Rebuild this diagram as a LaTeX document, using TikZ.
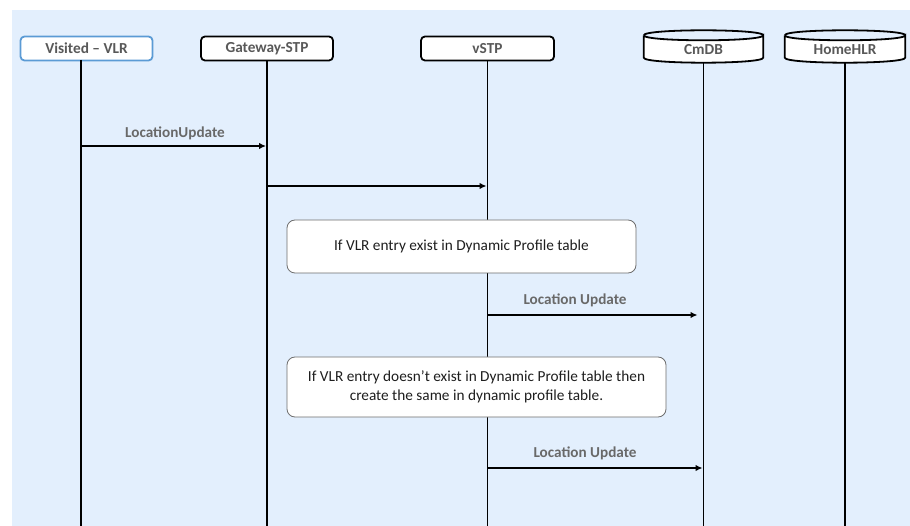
\documentclass[tikz,border=0pt]{standalone}
\usepackage{fontspec}
\setmainfont{Carlito}
\usetikzlibrary{arrows.meta}
\definecolor{bgblue}{RGB}{227,239,253}
\definecolor{vlrblue}{RGB}{91,155,213}
\definecolor{hdrtext}{RGB}{89,89,89}
\definecolor{lbltext}{RGB}{105,105,105}
\definecolor{notetext}{RGB}{30,30,30}
\definecolor{noteborder}{RGB}{110,110,110}
\tikzset{
  header/.style={draw=black, line width=1.8pt, rounded corners=4pt, fill=white,
    minimum height=24pt, inner sep=0pt, font=\fontsize{15.3}{17}\selectfont\bfseries, text=hdrtext},
  dbnode/.style={minimum width=119pt, minimum height=32pt, inner sep=0pt,
    font=\fontsize{15.3}{17}\selectfont\bfseries, text=hdrtext},
  lifeline/.style={line width=1.6pt, black},
  msg/.style={line width=1.3pt, -{Latex[length=7pt,width=6.5pt]}},
  msglabel/.style={font=\fontsize{15.2}{17}\selectfont\bfseries, text=lbltext, inner sep=0pt},
  note/.style={draw=noteborder, line width=0.8pt, rounded corners=8pt, fill=white,
    inner sep=0pt, font=\fontsize{15.3}{18.5}\selectfont, text=notetext, align=center}
}
\begin{document}
\begin{tikzpicture}[x=1pt,y=-1pt]
\useasboundingbox (0,0) rectangle (910,526);
\fill[bgblue] (12,10) rectangle (910,526);

% header nodes
\node[header, draw=vlrblue, minimum width=132pt] (VLR) at (86.5,48.5) {Visited -- VLR};
\node[header, minimum width=132pt] (GW) at (267,48.5) {Gateway-STP};
\node[header, minimum width=133pt] (VSTP) at (487.5,48.5) {vSTP};
\node[dbnode] (CMDB) at (703.5,46.5) {};
\node[dbnode, minimum width=120pt] (HLR) at (845,46.5) {};

% cylinders
\foreach \n/\t in {CMDB/CmDB,HLR/HomeHLR}{
  \draw[line width=1.8pt, fill=white]
    (\n.north west) ++(0,5) coordinate (\n tl)
    (\n.north east) ++(0,5) coordinate (\n tr)
    (\n.south west) ++(0,-5) coordinate (\n bl)
    (\n.south east) ++(0,-5) coordinate (\n br)
    (\n tl) -- (\n bl) .. controls ([yshift=-6.67pt]\n bl) and ([yshift=-6.67pt]\n br) .. (\n br)
    -- (\n tr) .. controls ([yshift=-6.67pt]\n tr) and ([yshift=-6.67pt]\n tl) .. (\n tl);
  \draw[line width=1.8pt]
    (\n tl) .. controls ([yshift=6.67pt]\n tl) and ([yshift=6.67pt]\n tr) .. (\n tr);
  \node[dbnode] at ([yshift=-3pt]\n.center) {\t};
}

% lifelines
\coordinate (bottom) at (0,526);
\coordinate (vlrx) at (81,60);
\draw[lifeline] (vlrx) -- (vlrx |- bottom);
\draw[lifeline] (GW.south) -- (GW.south |- bottom);
\draw[lifeline] (VSTP.south) -- (VSTP.south |- bottom);
\draw[lifeline] (CMDB.south) -- (CMDB.south |- bottom);
\draw[lifeline] (HLR.south) -- (HLR.south |- bottom);

% messages
\coordinate (m1) at (0,146);
\coordinate (m2) at (0,186);
\coordinate (m3) at (0,315);
\coordinate (m4) at (0,468);
\draw[msg] (vlrx |- m1) -- ([xshift=-1pt]GW.south |- m1);
\node[msglabel] (l1) at (175,133) {LocationUpdate};
\draw[msg] (GW.south |- m2) -- ([xshift=-1pt]VSTP.south |- m2);

\node[note, minimum width=349pt, minimum height=53pt] (n1) at (461.5,246.5)
  {If VLR entry exist in Dynamic Profile table};

\draw[msg] (VSTP.south |- m3) -- ([xshift=-6pt]CMDB.south |- m3);
\node[msglabel] (l2) at (575,300) {Location Update};

\node[note, minimum width=379pt, minimum height=60pt] (n2) at (476.5,387)
  {If VLR entry doesn’t exist in Dynamic Profile table then\\create the same in dynamic profile table.};

\draw[msg] (VSTP.south |- m4) -- ([xshift=-1pt]CMDB.south |- m4);
\node[msglabel] (l3) at (585,453) {Location Update};
\end{tikzpicture}
\end{document}
